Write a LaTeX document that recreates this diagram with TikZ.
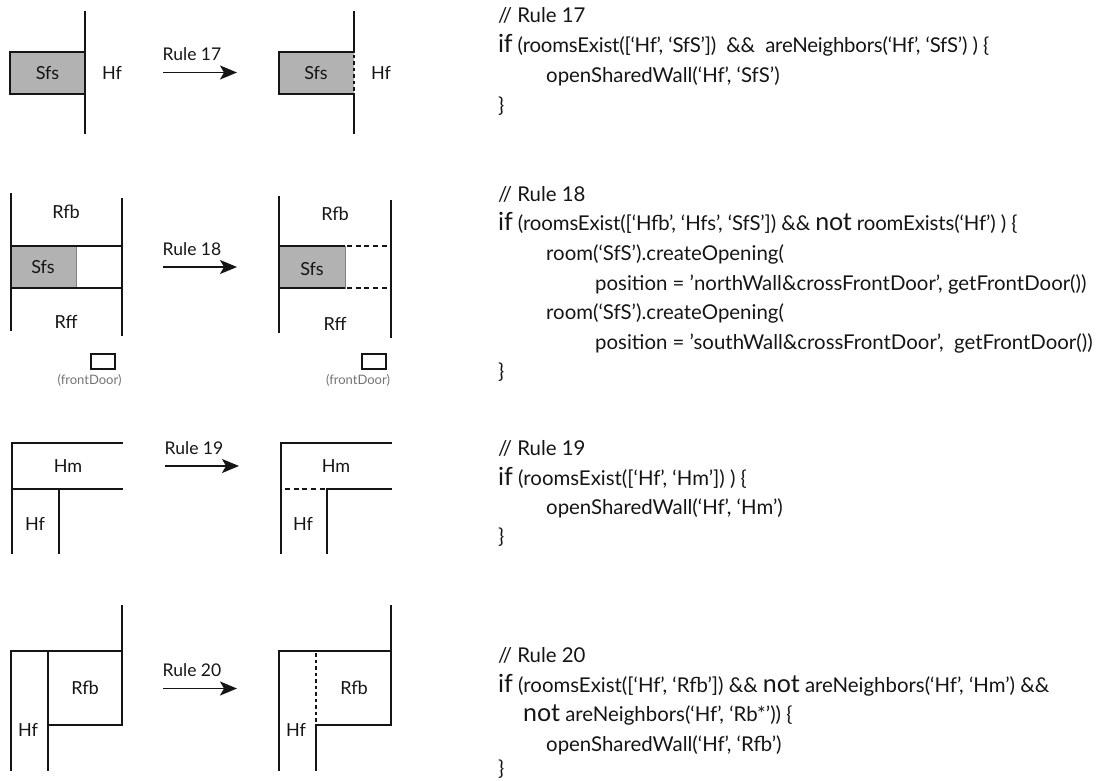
\documentclass[tikz,border=0pt]{standalone}
\usepackage{fontspec}
\usetikzlibrary{arrows.meta}
\setmainfont{Lato}
\newfontfamily\codefont{Lato}
\newcommand{\kw}[1]{{\fontsize{25}{25}\selectfont #1}}
\definecolor{ink}{HTML}{151515}
\definecolor{fillgray}{HTML}{B2B2B2}
\tikzset{
  x=1pt,y=-1pt,
  wall/.style={draw=ink,line width=2pt},
  opened/.style={draw=ink,line width=2pt,dash pattern=on 5pt off 3.7pt},
  dotted wall/.style={draw=ink,line width=2pt,dash pattern=on 3.5pt off 3pt},
  sfsbox/.style={fill=fillgray,draw=gray,line width=0.8pt},
  room/.style={inner sep=0,text=ink,font=\fontsize{18}{18}\selectfont},
  rulelabel/.style={inner sep=0,text=ink,font=\fontsize{17.5}{18}\selectfont},
  doorbox/.style={draw=ink,line width=2pt,fill=white},
  doorlabel/.style={inner sep=0,text=black!55,font=\fontsize{13}{13}\selectfont},
  rulearrow/.style={draw=ink,line width=1.6pt,-{Stealth[length=17pt,width=14pt,inset=4pt]}},
  code/.style={anchor=base west,inner sep=0,text=ink,font=\codefont\fontsize{20.4}{21}\selectfont},
}
\begin{document}
\begin{tikzpicture}
\useasboundingbox (0,0) rectangle (1100,781);

% ---- Rule 17 ----
\path[fill=fillgray] (10,52) rectangle (85,94);
\draw[wall,line join=miter] (85,52) -- (10,52) -- (10,94) -- (85,94);
\draw[wall] (85,11) -- (85,134);
\node[room] (a1) at (47.5,73) {Sfs};
\node[room] (a2) at (112,73) {Hf};
\coordinate (a3) at (163,72.5); \coordinate (a4) at (237,72.5);
\draw[rulearrow] (a3) -- (a4);
\node[rulelabel] (a5) at (192,54) {Rule 17};
\path[fill=fillgray] (279,52) rectangle (353.5,94);
\draw[wall] (353.5,11) -- (353.5,52) -- (279,52) -- (279,94) -- (353.5,94) -- (353.5,134);
\draw[dotted wall] (353.5,55) -- (353.5,92);
\node[room] (a6) at (316,73) {Sfs};
\node[room] (a7) at (381,73) {Hf};

% ---- Rule 18 ----
\path[sfsbox] (10.5,246) rectangle (76,287.5);
\draw[wall] (10.5,193) -- (10.5,331);
\draw[wall] (122,198) -- (122,336);
\draw[wall] (10.5,246) -- (122,246);
\draw[wall] (10.5,287.5) -- (122,287.5);
\node[room] (b1) at (66,212) {Rfb};
\node[room] (b2) at (43,267) {Sfs};
\node[room] (b3) at (66,322) {Rff};
\node[doorbox,minimum width=24pt,minimum height=15pt,inner sep=0] (b4) at (103,361.5) {};
\node[doorlabel] (b5) at (89.5,380) {(frontDoor)};
\coordinate (b6) at (163,267); \coordinate (b7) at (237,267);
\draw[rulearrow] (b6) -- (b7);
\node[rulelabel] (b8) at (192,249) {Rule 18};
\path[sfsbox] (279,246) rectangle (345,288);
\draw[wall] (279,196) -- (279,333);
\draw[wall] (390.5,200) -- (390.5,338);
\draw[wall] (279,246) -- (345,246);
\draw[wall] (279,288) -- (345,288);
\draw[opened] (347,246) -- (390,246);
\draw[opened] (347,288) -- (390,288);
\node[room] (b9) at (335,214) {Rfb};
\node[room] (b10) at (312,269) {Sfs};
\node[room] (b11) at (335,324) {Rff};
\node[doorbox,minimum width=24pt,minimum height=15pt,inner sep=0] (b12) at (374,361.5) {};
\node[doorlabel] (b13) at (358,380) {(frontDoor)};

% ---- Rule 19 ----
\draw[wall] (123,443) -- (12,443) -- (12,554);
\draw[wall] (12,489) -- (123,489);
\draw[wall] (58.5,489) -- (58.5,554);
\node[room] (c1) at (68,466) {Hm};
\node[room] (c2) at (35,524) {Hf};
\coordinate (c3) at (165,466); \coordinate (c4) at (239,466);
\draw[rulearrow] (c3) -- (c4);
\node[rulelabel] (c5) at (194,448) {Rule 19};
\draw[wall] (392,443) -- (281,443) -- (281,554);
\draw[wall] (392,489) -- (327,489) -- (327,554);
\draw[opened] (285,489) -- (325,489);
\node[room] (c6) at (336,466) {Hm};
\node[room] (c7) at (303,524) {Hf};

% ---- Rule 20 ----
\draw[wall] (10.5,771) -- (10.5,651) -- (122,651);
\draw[wall] (122,605) -- (122,725) -- (47.5,725);
\draw[wall] (47.5,651) -- (47.5,771);
\node[room] (d1) at (85,688) {Rfb};
\node[room] (d2) at (28,730) {Hf};
\coordinate (d3) at (163,688.5); \coordinate (d4) at (237,688.5);
\draw[rulearrow] (d3) -- (d4);
\node[rulelabel] (d5) at (192,670) {Rule 20};
\draw[wall] (279,771) -- (279,651) -- (390.5,651);
\draw[wall] (390.5,605) -- (390.5,725) -- (316,725) -- (316,771);
\draw[dotted wall] (316,653) -- (316,722);
\node[room] (d6) at (354,688) {Rfb};
\node[room] (d7) at (296,730) {Hf};

% ---- Code ----
\node[code] (e1) at (498,23) {// Rule 17};
\node[code] (e2) at (498,53) {\addfontfeature{LetterSpace=-1}\kw{if} (roomsExist([‘Hf’, ‘SfS’])\ \ \&\&\ \ areNeighbors(‘Hf’, ‘SfS’) ) \{};
\node[code] (e3) at (546,83) {openSharedWall(‘Hf’, ‘SfS’)};
\node[code] (e4) at (498,113) {\}};

\node[code] (f1) at (498,201) {// Rule 18};
\node[code] (f2) at (498,230) {\addfontfeature{LetterSpace=-0.6}\kw{if} (roomsExist([‘Hfb’, ‘Hfs’, ‘SfS’]) \&\& \kw{not} roomExists(‘Hf’) ) \{};
\node[code] (f3) at (546,260) {room(‘SfS’).createOpening(};
\node[code] (f4) at (595,290) {position = ’northWall\&crossFrontDoor’, getFrontDoor())};
\node[code] (f5) at (546,319) {room(‘SfS’).createOpening(};
\node[code] (f6) at (595,349) {position = ’southWall\&crossFrontDoor’,\ \ getFrontDoor())};
\node[code] (f7) at (498,378) {\}};

\node[code] (g1) at (498,455) {// Rule 19};
\node[code] (g2) at (498,485) {\kw{if} (roomsExist([‘Hf’, ‘Hm’]) ) \{};
\node[code] (g3) at (546,514) {openSharedWall(‘Hf’, ‘Hm’)};
\node[code] (g4) at (498,543) {\}};

\node[code] (h1) at (498,662) {// Rule 20};
\node[code] (h2) at (498,692) {\kw{if} (roomsExist([‘Hf’, ‘Rfb’]) \&\& \kw{not} areNeighbors(‘Hf’, ‘Hm’) \&\&};
\node[code] (h3) at (523,721) {\kw{not} areNeighbors(‘Hf’, ‘Rb*’)) \{};
\node[code] (h4) at (546,751) {openSharedWall(‘Hf’, ‘Rfb’)};
\node[code] (h5) at (498,775) {\}};
\end{tikzpicture}
\end{document}
